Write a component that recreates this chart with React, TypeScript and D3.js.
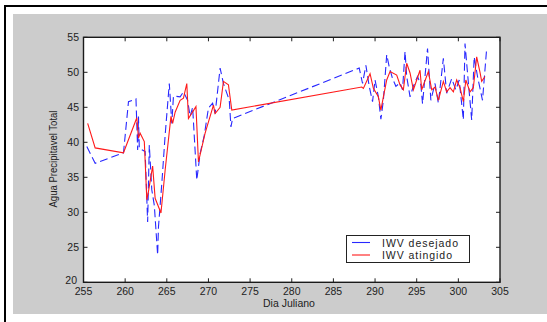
import * as d3 from "d3";

// IWV desejado (blue dashed)
const desejadoDia = [
  255.4, 256.4, 259.8, 260.4, 261.3, 261.5, 261.6, 261.7, 262.4, 262.7, 262.9, 263.2, 263.5, 263.9,
  264.0, 264.4, 264.8, 265.3, 265.6, 265.8, 266.6, 267.0, 267.5, 267.8, 268.1, 268.6, 269.0, 269.5,
  270.0, 270.5, 270.8, 271.4, 271.8, 272.5, 272.7, 272.9, 288.1, 288.5, 288.9, 289.3, 289.7, 290.0,
  290.4, 290.7, 291.0, 291.4, 291.7, 292.1, 292.5, 293.0, 293.3, 293.6, 293.8, 294.2, 294.6, 295.1,
  295.5, 295.7, 296.3, 296.7, 297.2, 297.6, 298.2, 298.6, 299.2, 299.7, 300.1, 300.6, 300.8, 301.1,
  301.6, 301.9, 302.3, 302.9, 303.4,
];
const desejadoIWV = [
  39.4, 37.0, 38.5, 45.8, 46.2, 38.9, 43.7, 39.1, 38.7, 28.6, 39.6, 33.2, 31.0, 23.9,
  27.9, 34.1, 41.0, 48.4, 42.7, 46.6, 46.5, 47.2, 46.0, 43.7, 45.0, 34.6, 38.4, 41.0,
  44.9, 45.6, 44.1, 50.6, 48.4, 46.0, 42.2, 43.4, 50.6, 48.4, 51.0, 48.0, 45.8, 48.9,
  46.5, 43.3, 46.0, 52.5, 50.8, 49.1, 48.0, 48.5, 47.5, 53.0, 49.4, 46.5, 48.0, 49.4,
  48.2, 45.5, 53.4, 46.0, 48.4, 45.6, 52.0, 47.0, 49.1, 47.5, 48.9, 43.2, 54.1, 49.9,
  43.2, 52.2, 49.4, 46.0, 53.4,
];

// IWV atingido (red solid)
const atingidoDia = [
  255.5, 256.4, 259.8, 261.4, 261.6, 261.8, 262.3, 262.6, 262.8, 263.3, 263.6, 264.3, 264.8, 265.5,
  265.7, 266.0, 266.6, 267.0, 267.4, 267.6, 268.5, 268.8, 269.6, 270.6, 270.8, 271.4, 271.8, 272.4,
  272.8, 288.4, 288.6, 289.4, 289.8, 290.4, 290.7, 291.0, 291.4, 291.8, 292.6, 293.0, 293.4, 293.8,
  294.2, 294.6, 295.0, 295.4, 295.6, 296.4, 296.8, 297.2, 297.6, 298.2, 298.6, 299.0, 299.4, 299.8,
  300.2, 300.6, 300.9, 301.4, 301.8, 302.2, 302.6, 302.8, 303.2,
];
const atingidoIWV = [
  42.7, 39.2, 38.5, 43.5, 40.6, 41.3, 40.1, 31.8, 33.0, 36.6, 32.0, 29.9, 36.0, 43.7,
  42.7, 44.3, 46.0, 46.3, 48.4, 43.4, 45.1, 37.2, 41.3, 45.3, 44.1, 45.0, 48.7, 48.2,
  44.6, 47.9, 47.7, 49.8, 47.7, 46.5, 44.6, 46.5, 48.9, 50.1, 49.6, 48.2, 47.5, 51.3,
  49.9, 47.5, 48.9, 50.3, 47.5, 50.1, 47.5, 47.9, 46.0, 48.7, 47.2, 47.8, 47.2, 48.9,
  47.8, 45.8, 48.9, 47.2, 47.8, 52.2, 50.0, 48.7, 49.4,
];

const xTicks = [255, 260, 265, 270, 275, 280, 285, 290, 295, 300, 305];
const yTicks = [20, 25, 30, 35, 40, 45, 50, 55];

const FONT = "'Liberation Sans', Arial, sans-serif";

export default function App() {
  const W = 547;
  const H = 322;
  const plot = { left: 83.5, right: 500, top: 37.3, bottom: 282.3 };

  const x = d3.scaleLinear().domain([255, 305]).range([plot.left, plot.right]);
  const y = d3.scaleLinear().domain([20, 55]).range([plot.bottom, plot.top]);

  const line = d3
    .line<[number, number]>()
    .x((d) => x(d[0]))
    .y((d) => y(d[1]));

  const desejado = desejadoDia.map((d, i) => [d, desejadoIWV[i]] as [number, number]);
  const atingido = atingidoDia.map((d, i) => [d, atingidoIWV[i]] as [number, number]);

  const tick = 4;

  return (
    <svg
      width={W}
      height={H}
      style={{ position: "absolute", left: 0, top: 0, background: "#fff" }}
      fontFamily={FONT}
    >
      {/* outer frame */}
      <rect x={13} y={14} width={W - 13} height={300} fill="#cccccc" />
      <line x1={4} x2={W} y1={6} y2={6} stroke="#000" strokeWidth={2} />
      <line x1={5} x2={5} y1={6} y2={H} stroke="#000" strokeWidth={2} />

      {/* axes box */}
      <rect
        x={plot.left}
        y={plot.top}
        width={plot.right - plot.left}
        height={plot.bottom - plot.top}
        fill="#fff"
      />

      <defs>
        <clipPath id="clip">
          <rect x={plot.left} y={plot.top} width={plot.right - plot.left} height={plot.bottom - plot.top} />
        </clipPath>
      </defs>

      <g clipPath="url(#clip)">
        <path d={line(desejado) ?? ""} fill="none" stroke="#2828ff" strokeWidth={1.1} strokeDasharray="8,4" />
        <path d={line(atingido) ?? ""} fill="none" stroke="#ff1a1a" strokeWidth={1.1} />
      </g>

      {/* ticks (inward, all four sides) */}
      <g stroke="#222" strokeWidth={1}>
        {xTicks.map((t) => (
          <g key={"xt" + t}>
            <line x1={x(t)} x2={x(t)} y1={plot.bottom} y2={plot.bottom - tick} />
            <line x1={x(t)} x2={x(t)} y1={plot.top} y2={plot.top + tick} />
          </g>
        ))}
        {yTicks.map((t) => (
          <g key={"yt" + t}>
            <line x1={plot.left} x2={plot.left + tick} y1={y(t)} y2={y(t)} />
            <line x1={plot.right} x2={plot.right - tick} y1={y(t)} y2={y(t)} />
          </g>
        ))}
      </g>

      <rect
        x={plot.left}
        y={plot.top}
        width={plot.right - plot.left}
        height={plot.bottom - plot.top}
        fill="none"
        stroke="#1a1a1a"
        strokeWidth={1.4}
      />

      {/* tick labels */}
      <g fontSize={10.5} fill="#222">
        {xTicks.map((t) => (
          <text key={"xl" + t} x={x(t)} y={295} textAnchor="middle">
            {t}
          </text>
        ))}
        {yTicks.map((t) => (
          <text
            key={"yl" + t}
            x={t === 20 ? 77 : 79}
            y={y(t) - (t === 20 ? 2 : 0)}
            dy="0.35em"
            textAnchor="end"
          >
            {t}
          </text>
        ))}
      </g>

      <text x={289} y={306.5} textAnchor="middle" fontSize={10.5} fill="#222">
        Dia Juliano
      </text>
      <text
        transform="translate(57,159) rotate(-90)"
        textAnchor="middle"
        fontSize={10.5}
        fill="#222"
        textLength={97}
        lengthAdjust="spacingAndGlyphs"
      >
        Agua Precipitavel Total
      </text>

      {/* legend */}
      <g>
        <rect x={346.5} y={235.5} width={123} height={27} fill="#fff" stroke="#222" strokeWidth={1} />
        <line x1={352} x2={370} y1={242.5} y2={242.5} stroke="#2828ff" strokeWidth={1.1} />
        <line x1={352} x2={370} y1={255} y2={255} stroke="#ff1a1a" strokeWidth={1.1} />
        <text x={382} y={246.5} fontSize={10.5} fill="#222" textLength={76} lengthAdjust="spacing">
          IWV desejado
        </text>
        <text x={382} y={259} fontSize={10.5} fill="#222" textLength={70} lengthAdjust="spacing">
          IWV atingido
        </text>
      </g>
    </svg>
  );
}
